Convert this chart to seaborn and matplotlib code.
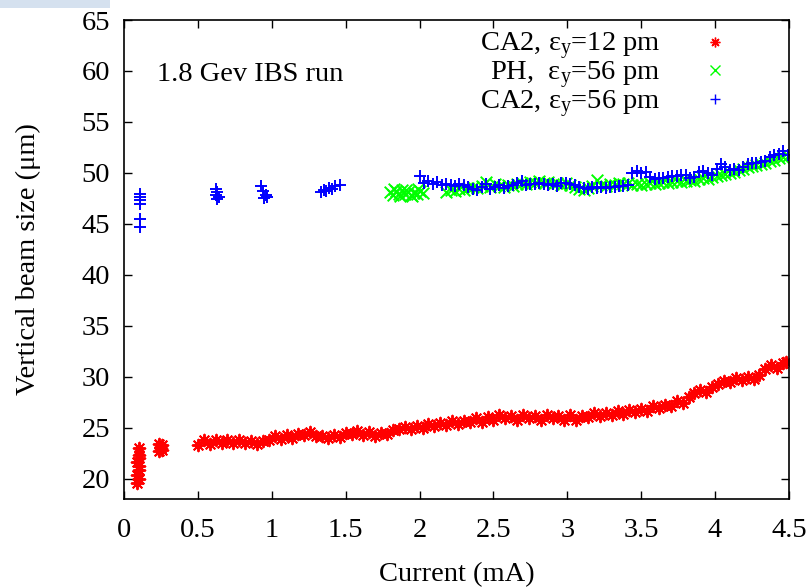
import matplotlib
matplotlib.use("Agg")
import matplotlib.pyplot as plt
import pandas as pd
import seaborn as sns
from matplotlib.lines import Line2D
from matplotlib.patches import Rectangle

# CA2, eps_y = 12 pm (red)
RED_X = [0.09, 0.10, 0.09, 0.10, 0.10, 0.09, 0.10, 0.10, 0.10,
         0.24, 0.25, 0.26, 0.24, 0.26,
         0.50, 0.54, 0.58, 0.62, 0.66, 0.70, 0.74, 0.78, 0.82, 0.86,
         0.90, 0.94, 0.98, 1.02, 1.06, 1.10, 1.14, 1.18, 1.22, 1.26,
         1.30, 1.34, 1.38, 1.42, 1.46, 1.50, 1.54, 1.58, 1.62, 1.66,
         1.70, 1.74, 1.78, 1.82, 1.86, 1.90, 1.94, 1.98, 2.02, 2.06,
         2.10, 2.14, 2.18, 2.22, 2.26, 2.30, 2.34, 2.38, 2.42, 2.46,
         2.50, 2.54, 2.58, 2.62, 2.66, 2.70, 2.74, 2.78, 2.82, 2.86,
         2.90, 2.94, 2.98, 3.02, 3.06, 3.10, 3.14, 3.18, 3.22, 3.26,
         3.30, 3.34, 3.38, 3.42, 3.46, 3.50, 3.54, 3.58, 3.62, 3.66,
         3.70, 3.74, 3.78, 3.82, 3.86, 3.90, 3.94, 3.98, 4.02, 4.06,
         4.10, 4.14, 4.18, 4.22, 4.26, 4.30, 4.34, 4.38, 4.42, 4.46, 4.48]
RED_Y = [19.6, 20.0, 20.4, 20.8, 21.2, 21.6, 22.0, 22.3, 23.0,
         22.7, 23.0, 23.3, 23.4, 22.8,
         23.3, 23.8, 23.4, 23.8, 23.5, 23.8, 23.5, 23.8, 23.5, 23.7,
         23.4, 23.7, 23.8, 24.2, 23.9, 24.3, 24.0, 24.4, 24.3, 24.6,
         24.2, 24.2, 24.0, 24.3, 24.1, 24.5, 24.4, 24.7, 24.3, 24.6,
         24.2, 24.5, 24.4, 24.8, 24.9, 25.1, 24.9, 25.2, 25.0, 25.4,
         25.2, 25.5, 25.3, 25.7, 25.4, 25.7, 25.6, 25.9, 25.6, 26.0,
         25.8, 26.2, 25.9, 26.1, 25.8, 26.2, 25.9, 26.1, 25.8, 26.2,
         25.9, 26.1, 25.8, 26.2, 25.8, 26.1, 26.0, 26.4, 26.1, 26.4,
         26.2, 26.6, 26.3, 26.7, 26.5, 26.8, 26.6, 27.1, 26.9, 27.2,
         27.1, 27.6, 27.4, 28.0, 28.4, 28.7, 28.5, 29.0, 29.3, 29.6,
         29.5, 29.9, 29.7, 30.0, 29.8, 30.2, 30.8, 31.1, 30.9, 31.3, 31.4]

# PH, eps_y = 56 pm (green)
GREEN_X = [1.80, 1.82, 1.84, 1.86, 1.88, 1.90, 1.92, 1.94, 1.96, 1.98,
           2.00, 2.02, 1.83, 1.91, 1.99, 1.87, 1.95,
           2.18, 2.21, 2.24, 2.27, 2.30, 2.33, 2.36, 2.39, 2.42, 2.45,
           2.48, 2.51, 2.54, 2.57, 2.60, 2.63, 2.66, 2.69, 2.72, 2.75,
           2.78, 2.81, 2.84, 2.87, 2.90, 2.93, 2.96, 2.99, 3.02, 3.05,
           3.08, 3.11, 3.14, 3.17, 3.20, 3.23, 3.26, 3.29, 3.32, 3.35,
           3.38, 3.41, 3.44, 3.47, 3.50, 3.53, 3.56, 3.59, 3.62, 3.65,
           3.68, 3.71, 3.74, 3.77, 3.80, 3.83, 3.86, 3.89, 3.92, 3.95,
           3.98, 4.01, 4.04, 4.07, 4.10, 4.13, 4.16, 4.19, 4.22, 4.25,
           4.28, 4.31, 4.34, 4.37, 4.40, 4.43, 4.46, 4.49]
GREEN_Y = [48.1, 47.8, 48.2, 47.9, 48.3, 47.9, 48.1, 47.8, 48.0, 47.9,
           48.2, 48.0, 48.4, 48.3, 48.4, 47.7, 47.7,
           48.1, 48.3, 48.2, 48.4, 48.3, 48.5, 48.6, 48.5, 48.7, 49.1,
           48.6, 48.9, 48.7, 48.6, 48.8, 48.7, 48.9, 49.0, 48.9, 49.1,
           49.0, 49.2, 49.0, 49.1, 48.9, 49.0, 48.8, 49.0, 48.8, 48.6,
           48.4, 48.3, 48.5, 48.7, 49.3, 48.8, 48.7, 48.9, 48.8, 49.0,
           48.9, 49.0, 48.8, 48.9, 48.8, 48.9, 49.0, 48.9, 49.0, 49.1,
           49.0, 49.1, 49.2, 49.1, 49.2, 49.3, 49.2, 49.4, 49.5, 49.4,
           49.6, 49.7, 49.8, 49.9, 50.0, 50.1, 50.3, 50.4, 50.6, 50.7,
           50.8, 50.9, 51.0, 51.2, 51.3, 51.5, 51.6, 51.7]

# CA2, eps_y = 56 pm (blue)
BLUE_X = [0.11, 0.11, 0.11, 0.11, 0.11, 0.11,
          0.62, 0.63, 0.62, 0.64, 0.63,
          0.93, 0.94, 0.96, 0.97, 0.95,
          1.33, 1.35, 1.37, 1.39, 1.41, 1.43, 1.46,
          2.00, 2.03, 2.06, 2.09, 2.12, 2.15, 2.18, 2.21, 2.24, 2.27,
          2.30, 2.33, 2.36, 2.39, 2.42, 2.45, 2.48, 2.51, 2.54, 2.57,
          2.60, 2.63, 2.66, 2.69, 2.72, 2.75, 2.78, 2.81, 2.84, 2.87,
          2.90, 2.93, 2.96, 2.99, 3.02, 3.05, 3.08, 3.11, 3.14, 3.17,
          3.20, 3.23, 3.26, 3.29, 3.32, 3.35, 3.38, 3.41, 3.44, 3.47,
          3.50, 3.53, 3.56, 3.59, 3.62, 3.65, 3.68, 3.71, 3.74, 3.77,
          3.80, 3.83, 3.86, 3.89, 3.92, 3.95, 3.98, 4.01, 4.04, 4.07,
          4.10, 4.13, 4.16, 4.19, 4.22, 4.25, 4.28, 4.31, 4.34, 4.37,
          4.40, 4.43, 4.46, 4.49]
BLUE_Y = [47.9, 47.6, 47.3, 46.9, 45.5, 44.7,
          48.4, 48.1, 47.8, 47.6, 47.4,
          48.7, 48.2, 47.8, 47.6, 47.5,
          48.1, 48.3, 48.2, 48.5, 48.4, 48.7, 48.8,
          49.7, 49.0, 49.2, 48.9, 49.1, 48.8, 48.9, 48.8, 48.7, 48.9,
          48.8, 48.6, 48.4, 48.3, 48.6, 48.9, 48.4, 48.6, 48.8, 48.5,
          48.7, 48.8, 49.0, 49.2, 48.8, 48.9, 48.9, 49.0, 48.9, 48.8,
          48.9, 48.7, 49.0, 49.0, 48.9, 48.8, 48.6, 48.5, 48.4, 48.6,
          48.5, 48.6, 48.5, 48.6, 48.6, 48.7, 48.7, 48.8, 50.0, 50.2,
          50.0, 50.1, 49.6, 49.4, 49.5, 49.5, 49.6, 49.7, 49.7, 49.8,
          49.8, 49.5, 49.6, 50.1, 50.2, 50.0, 49.8, 50.4, 50.9, 50.6,
          50.3, 50.4, 50.3, 50.6, 50.9, 51.0, 51.0, 51.1, 51.2, 51.6,
          51.8, 51.9, 52.1, 51.8]

LABELS = ["CA2, ε$_\\mathregular{y}$=12 pm",
          "PH,  ε$_\\mathregular{y}$=56 pm",
          "CA2, ε$_\\mathregular{y}$=56 pm"]
COLORS = ["#ff0000", "#00ff00", "#0000ff"]
MARKERS = [(8, 2, 0), "x", "+"]

plt.rcParams["font.family"] = ["Liberation Serif", "DejaVu Serif"]
plt.rcParams["mathtext.fontset"] = "custom"
plt.rcParams["mathtext.rm"] = "Liberation Serif"
plt.rcParams["mathtext.it"] = "Liberation Serif:italic"
FS = 20.5

fig = plt.figure(figsize=(8.11, 5.87), dpi=100)
ax = fig.add_axes([124 / 811, 1 - 499 / 587, 665 / 811, 479 / 587])

series = [(RED_X, RED_Y), (GREEN_X, GREEN_Y), (BLUE_X, BLUE_Y)]
for (xs, ys), color, marker in zip(series, COLORS, MARKERS):
    df = pd.DataFrame({"current": xs, "size": ys})
    sns.scatterplot(data=df, x="current", y="size", marker=marker, color=color,
                    s=70, linewidth=1.4, ax=ax, legend=False)

ax.set_xlim(0, 4.5)
ax.set_ylim(18, 65)
ax.set_xticks([0, 0.5, 1, 1.5, 2, 2.5, 3, 3.5, 4, 4.5])
ax.set_xticklabels(["0", "0.5", "1", "1.5", "2", "2.5", "3", "3.5", "4", "4.5"])
ax.set_yticks(range(20, 66, 5))
ax.tick_params(direction="in", length=6, width=1, top=True, right=True,
               labelsize=FS, colors="black")
ax.tick_params(axis="x", pad=14)
ax.tick_params(axis="y", pad=10)
for sp in ax.spines.values():
    sp.set_linewidth(1.2)
    sp.set_color("black")

ax.set_xlabel("Current (mA)", fontsize=FS)
ax.set_ylabel("Vertical beam size (μm)", fontsize=FS)
ax.xaxis.set_label_coords(0.5, -0.132)
ax.yaxis.set_label_coords(-0.125, 0.5)

ax.text(0.05, 0.873, "1.8 Gev IBS run", transform=ax.transAxes,
        fontsize=FS, va="baseline", ha="left")

handles = [Line2D([], [], ls="none", marker=m, color=c, markersize=7, mew=1.0)
           for m, c in zip(MARKERS, COLORS)]
ax.legend(handles, LABELS, loc="upper right", bbox_to_anchor=(0.9316, 0.9775),
          frameon=False, markerfirst=False, handlelength=2.0,
          handletextpad=0.93, labelspacing=-0.1, borderpad=0,
          borderaxespad=0, fontsize=FS)

fig.add_artist(Rectangle((0, 1 - 8 / 587), 110 / 811, 8 / 587,
                         transform=fig.transFigure, color="#d5e1ef", lw=0))

fig.savefig("out.png", dpi=100)
